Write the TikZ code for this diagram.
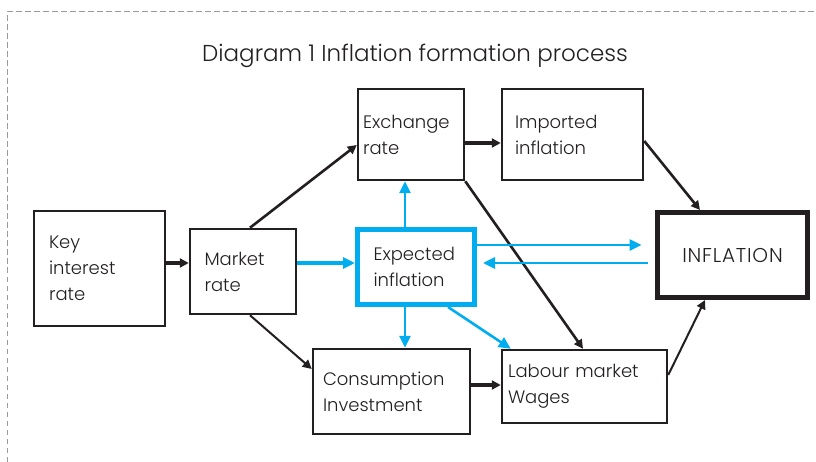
\documentclass[tikz,border=0pt]{standalone}
\usepackage{fontspec}
\setmainfont{Poppins}[UprightFont={* Light}]
\usetikzlibrary{arrows.meta,calc}
\definecolor{ink}{HTML}{231F20}
\definecolor{sky}{HTML}{00AEEF}
\definecolor{frame}{HTML}{9A9A9A}
\begin{document}
\begin{tikzpicture}[x=1pt,y=-1pt,
  box/.style={draw=ink,line width=2.5pt,rectangle,align=left,anchor=center,
    text=ink,font=\fontsize{18}{26}\selectfont,inner ysep=0pt},
  blkarrow/.style={draw=ink,-{Triangle[length=9pt,width=9pt]}},
  bluarrow/.style={draw=sky,-{Triangle[length=12pt,width=11pt]}}]
\useasboundingbox (0,0) rectangle (816,462);
% dashed frame
\draw[frame,line width=1pt,dash pattern=on 5.5pt off 3.5pt] (7,462) -- (7,12) -- (816,12);
% title
\node[anchor=base,text=ink,font=\fontsize{23}{28}\selectfont] (title) at (415,62) {Diagram 1 Inflation formation process};
% boxes
\node[box,text width=101pt,inner xsep=15pt,minimum height=115pt] (key) at (99.5,268.5) {Key\\interest\\rate};
\node[box,text width=77pt,inner xsep=14.5pt,minimum height=85pt] (market) at (243,271.5) {Market\\rate};
\node[box,text width=96pt,inner xsep=5pt,minimum height=91pt] (exch) at (411,134.5) {Exchange\\rate};
\node[box,text width=115pt,inner xsep=13pt,minimum height=91pt] (imp) at (572.5,134.5) {Imported\\inflation};
\node[box,draw=sky,line width=5pt,text width=85pt,inner xsep=16pt,minimum height=75pt] (exp) at (416,267) {Expected\\inflation};
\node[box,line width=5pt,text width=150pt,inner xsep=0pt,minimum height=85pt,align=center,
  font=\fontsize{20}{26}\selectfont\addfontfeature{LetterSpace=4}] (infl) at (732.5,255) {INFLATION};
\node[box,text width=137pt,inner xsep=10pt,minimum height=85pt] (cons) at (391.5,391.5) {Consumption\\Investment};
\node[box,text width=153pt,inner xsep=6pt,minimum height=73pt] (lab) at (584.5,386.5) {Labour market\\Wages};
% black connectors
\coordinate (k2m) at ($(key.east)+(0,-5.5)$);
\draw[blkarrow,line width=4pt] (k2m) -- (k2m -| market.west);
\draw[blkarrow,line width=2.6pt] ($(market.north)+(7,0)$) -- ($(exch.west)+(0,10.5)$);
\coordinate (e2m) at ($(exch.east)+(0,8.5)$);
\draw[blkarrow,line width=4pt] (e2m) -- (e2m -| imp.west);
\draw[blkarrow,line width=2.6pt] ($(imp.east)+(0,6.5)$) -- ($(infl.north)+(-32.5,0)$);
\draw[blkarrow,line width=2.6pt] (exch.south east) -- ($(lab.north)+(-1.5,0)$);
\draw[blkarrow,line width=2pt] ($(market.south)+(7,0)$) -- ($(cons.west)+(0,-22.5)$);
\coordinate (c2l) at ($(cons.east)+(0,-6.5)$);
\draw[blkarrow,line width=4pt] (c2l) -- (c2l -| lab.west);
\draw[blkarrow,line width=2pt] ($(lab.east)+(0,-11.5)$) -- ($(infl.south)+(-27.5,0)$);
% blue connectors
\coordinate (m2x) at ($(market.east)+(0,-8.5)$);
\draw[bluarrow,line width=4pt] (m2x) -- (m2x -| exp.west);
\coordinate (xup) at ($(exp.north)+(-11,0)$);
\draw[bluarrow,line width=2.8pt] (xup) -- (xup |- exch.south);
\coordinate (xdn) at ($(exp.south)+(-11,0)$);
\draw[bluarrow,line width=2.8pt] (xdn) -- (xdn |- cons.north);
\draw[bluarrow,line width=2.6pt] ($(exp.south)+(32,0)$) -- ($(lab.north west)+(10,0)$);
\coordinate (x2i) at ($(exp.east)+(0,-22)$);
\draw[bluarrow,line width=2.8pt] (x2i) -- ($(x2i -| infl.west)+(-13.5,0)$);
\coordinate (i2x) at ($(infl.west)+(-7.5,8)$);
\draw[bluarrow,line width=2.8pt] (i2x) -- ($(i2x -| exp.east)+(6,0)$);
\end{tikzpicture}
\end{document}
